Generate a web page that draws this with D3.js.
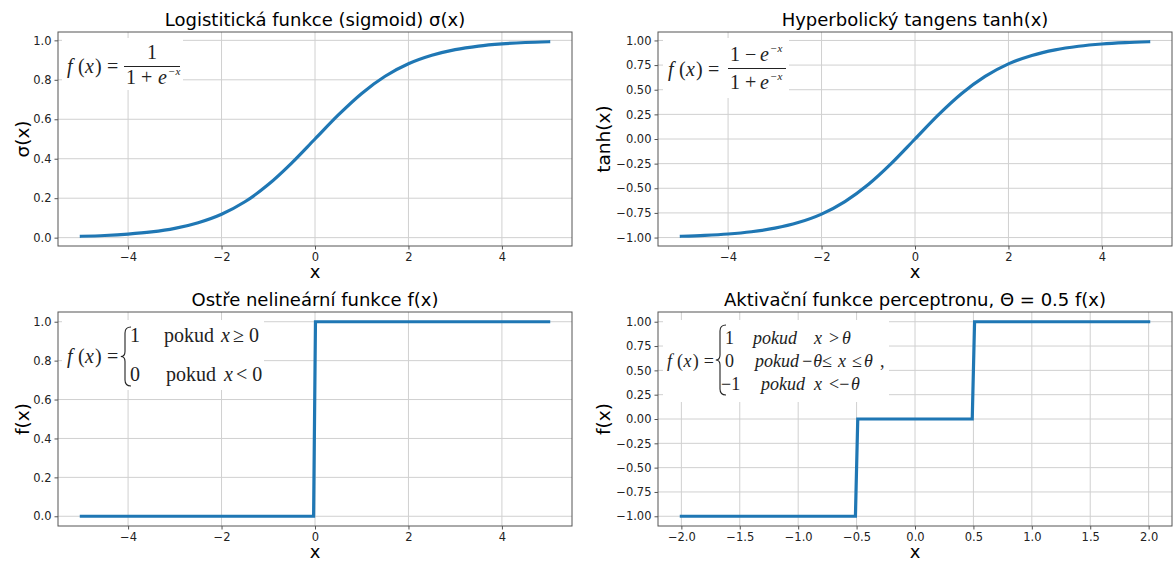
<!DOCTYPE html>
<html><head><meta charset="utf-8">
<script src="https://cdn.jsdelivr.net/npm/d3@7"></script>
<style>
html,body{margin:0;padding:0;background:#fff;}
svg{display:block;}
.tick text{font-family:"DejaVu Sans",sans-serif;font-size:11.5px;fill:#222;}
</style></head>
<body>
<svg id="c" width="1174" height="561"></svg>
<script>
// ---- data ----
const sigX = [-5,-4.5,-4,-3.5,-3,-2.5,-2,-1.5,-1,-0.5,0,0.5,1,1.5,2,2.5,3,3.5,4,4.5,5];
const sigY = [0.007,0.011,0.018,0.029,0.047,0.076,0.119,0.182,0.269,0.378,0.5,0.622,0.731,0.818,0.881,0.924,0.953,0.971,0.982,0.989,0.993];
const tanhX = [-5,-4.5,-4,-3.5,-3,-2.5,-2,-1.5,-1,-0.5,0,0.5,1,1.5,2,2.5,3,3.5,4,4.5,5];
const tanhY = [-0.987,-0.978,-0.964,-0.941,-0.905,-0.848,-0.762,-0.635,-0.462,-0.245,0,0.245,0.462,0.635,0.762,0.848,0.905,0.941,0.964,0.978,0.987];
const stepX = [-5,-0.03,0.01,5];
const stepY = [0,0,1,1];
const percX = [-2,-0.51,-0.49,0.49,0.51,2];
const percY = [-1,-1,0,0,1,1];
const xTicksWide = [-4,-2,0,2,4];
const xTicksNarrow = [-2,-1.5,-1,-0.5,0,0.5,1,1.5,2];
const yTicksUnit = [0,0.2,0.4,0.6,0.8,1.0];
const yTicksSym = [-1,-0.75,-0.5,-0.25,0,0.25,0.5,0.75,1];
const titles = ["Logistitická funkce (sigmoid) σ(x)","Hyperbolický tangens tanh(x)","Ostře nelineární funkce f(x)","Aktivační funkce perceptronu, Θ = 0.5 f(x)"];
const yLabels = ["σ(x)","tanh(x)","f(x)","f(x)"];

const svg = d3.select("#c");
const LINE = "#1f77b4";
const fmt = n => d => (d < 0 ? "\u2212" : "") + Math.abs(d).toFixed(n);

function pad(ext){ const m = (ext[1]-ext[0])*0.05; return [ext[0]-m, ext[1]+m]; }

function panel(o){
  const g = svg.append("g");
  const x = d3.scaleLinear().domain(pad(d3.extent(o.xs))).range([o.left, o.left+o.w]);
  const y = d3.scaleLinear().domain(pad(d3.extent(o.ys))).range([o.top+o.h, o.top]);
  g.append("g").selectAll("line").data(o.xTicks).join("line")
    .attr("x1", d=>x(d)).attr("x2", d=>x(d)).attr("y1", o.top).attr("y2", o.top+o.h)
    .attr("stroke","#d0d0d0").attr("stroke-width",1);
  g.append("g").selectAll("line").data(o.yTicks).join("line")
    .attr("y1", d=>y(d)).attr("y2", d=>y(d)).attr("x1", o.left).attr("x2", o.left+o.w)
    .attr("stroke","#d0d0d0").attr("stroke-width",1);
  const ax = g.append("g").attr("transform",`translate(0,${o.top+o.h})`)
    .call(d3.axisBottom(x).tickValues(o.xTicks).tickFormat(fmt(o.xDec)).tickSize(3.5).tickPadding(3));
  const ay = g.append("g").attr("transform",`translate(${o.left},0)`)
    .call(d3.axisLeft(y).tickValues(o.yTicks).tickFormat(fmt(o.yDec)).tickSize(3.5).tickPadding(3));
  [ax,ay].forEach(a=>{ a.select(".domain").remove(); a.selectAll(".tick line").attr("stroke","#555"); });
  g.append("rect").attr("x",o.box[0]).attr("y",o.box[1]).attr("width",o.box[2]).attr("height",o.box[3]).attr("fill","#fff");
  const pts = o.xs.map((v,i)=>[v,o.ys[i]]);
  g.append("path").datum(pts)
    .attr("d", d3.line().x(d=>x(d[0])).y(d=>y(d[1])).curve(o.curve||d3.curveLinear))
    .attr("fill","none").attr("stroke",LINE).attr("stroke-width",3.2).attr("stroke-linecap","square");
  g.append("rect").attr("x",o.left).attr("y",o.top).attr("width",o.w).attr("height",o.h)
    .attr("fill","none").attr("stroke","#555").attr("stroke-width",1);
  g.append("text").attr("x",o.left+o.w/2).attr("y",o.top-6).attr("text-anchor","middle")
    .attr("font-family","DejaVu Sans").attr("font-size",18).attr("fill","#000").text(o.title);
  g.append("text").attr("x",o.left+o.w/2).attr("y",o.top+o.h+32).attr("text-anchor","middle")
    .attr("font-family","DejaVu Sans").attr("font-size",18).attr("fill","#000").text("x");
  g.append("text").attr("transform",`translate(${o.ylx},${o.top+o.h/2}) rotate(-90)`).attr("text-anchor","middle")
    .attr("font-family","DejaVu Sans").attr("font-size",18.5).attr("fill","#000").text(o.ylabel);
  return g;
}

const L1 = 58, L2 = 658, W = 514, T1 = 32, T2 = 312, H = 214;

const g1 = panel({left:L1, top:T1, w:W, h:H, xs:sigX, ys:sigY, xTicks:xTicksWide, yTicks:yTicksUnit, xDec:0, yDec:1,
  title:titles[0], ylabel:yLabels[0], ylx:29, box:[62,38,121,52], curve:d3.curveMonotoneX});
const g2 = panel({left:L2, top:T1, w:W, h:H, xs:tanhX, ys:tanhY, xTicks:xTicksWide, yTicks:yTicksSym, xDec:0, yDec:2,
  title:titles[1], ylabel:yLabels[1], ylx:610, box:[663,38,126,60], curve:d3.curveMonotoneX});
const g3 = panel({left:L1, top:T2, w:W, h:H, xs:stepX, ys:stepY, xTicks:xTicksWide, yTicks:yTicksUnit, xDec:0, yDec:1,
  title:titles[2], ylabel:yLabels[2], ylx:29, box:[62,320,202,70]});
const g4 = panel({left:L2, top:T2, w:W, h:H, xs:percX, ys:percY, xTicks:xTicksNarrow, yTicks:yTicksSym, xDec:1, yDec:2,
  title:titles[3], ylabel:yLabels[3], ylx:610, box:[663,320,226,82]});

// ---- formulas ----
const SERIF = "Liberation Serif";
function t(g, x, y, s, size, italic, anchor){
  return g.append("text").attr("x",x).attr("y",y).attr("font-family",SERIF).attr("font-size",size)
    .attr("font-style",italic?"italic":"normal").attr("fill","#222").attr("text-anchor",anchor||"start").text(s);
}
function fx(g, x, y, size, k){
  k = k || 1;
  t(g,x,y,"f",size,true); t(g,x+11*k,y,"(",size,false); t(g,x+18*k,y,"x",size,true);
  t(g,x+28*k,y,")",size,false); t(g,x+40*k,y,"=",size,false);
}
function brace(g, x, y0, y1){
  const ym=(y0+y1)/2, w=6;
  g.append("path").attr("d",`M${x+w},${y0} Q${x},${y0} ${x},${y0+6} L${x},${ym-5} Q${x},${ym} ${x-w*0.7},${ym} Q${x},${ym} ${x},${ym+5} L${x},${y1-6} Q${x},${y1} ${x+w},${y1}`)
    .attr("fill","none").attr("stroke","#222").attr("stroke-width",1.1);
}
// panel 1
fx(g1, 67, 73, 20);
g1.append("line").attr("x1",124).attr("x2",180).attr("y1",66.5).attr("y2",66.5).attr("stroke","#222").attr("stroke-width",1);
t(g1,152,59,"1",20,false,"middle");
t(g1,126,84,"1 + ",20,false); t(g1,158,84,"e",20,true); t(g1,168,75,"\u2212x",11,true);
// panel 2
fx(g2, 668, 76, 20);
g2.append("line").attr("x1",728).attr("x2",786).attr("y1",68.5).attr("y2",68.5).attr("stroke","#222").attr("stroke-width",1);
t(g2,730,61,"1 \u2212 ",20,false); t(g2,760,61,"e",20,true); t(g2,770,52,"\u2212x",11,true);
t(g2,730,89,"1 + ",20,false); t(g2,760,89,"e",20,true); t(g2,770,80,"\u2212x",11,true);
// panel 3
fx(g3, 67, 363, 20);
brace(g3, 125, 327, 386);
t(g3,130,342,"1",20,false); t(g3,164,342,"pokud",20,false); t(g3,221,342,"x",20,true); t(g3,233,342,"\u2265 0",20,false);
t(g3,130,381,"0",20,false); t(g3,166,381,"pokud",20,false); t(g3,224,381,"x",20,true); t(g3,236,381,"< 0",20,false);
// panel 4
fx(g4, 667, 367, 18, 0.92);
brace(g4, 720, 325, 395);
t(g4,725,344,"1",18,false); t(g4,753,344,"pokud",18,true); t(g4,814,344,"x",18,true); t(g4,829,344,"> ",18,false); t(g4,842,344,"\u03b8",18,true);
t(g4,725,367,"0",18,false); t(g4,755,367,"pokud",18,true); t(g4,801,367,"\u2212\u03b8\u2264",18,true); t(g4,838,367,"x",18,true); t(g4,852,367,"\u2264",18,false); t(g4,864,367,"\u03b8",18,true); t(g4,880,367,",",18,false);
t(g4,721,390,"\u22121",18,false); t(g4,761,390,"pokud",18,true); t(g4,814,390,"x",18,true); t(g4,829,390,"<\u2212",18,false); t(g4,851,390,"\u03b8",18,true);
</script>
</body></html>
